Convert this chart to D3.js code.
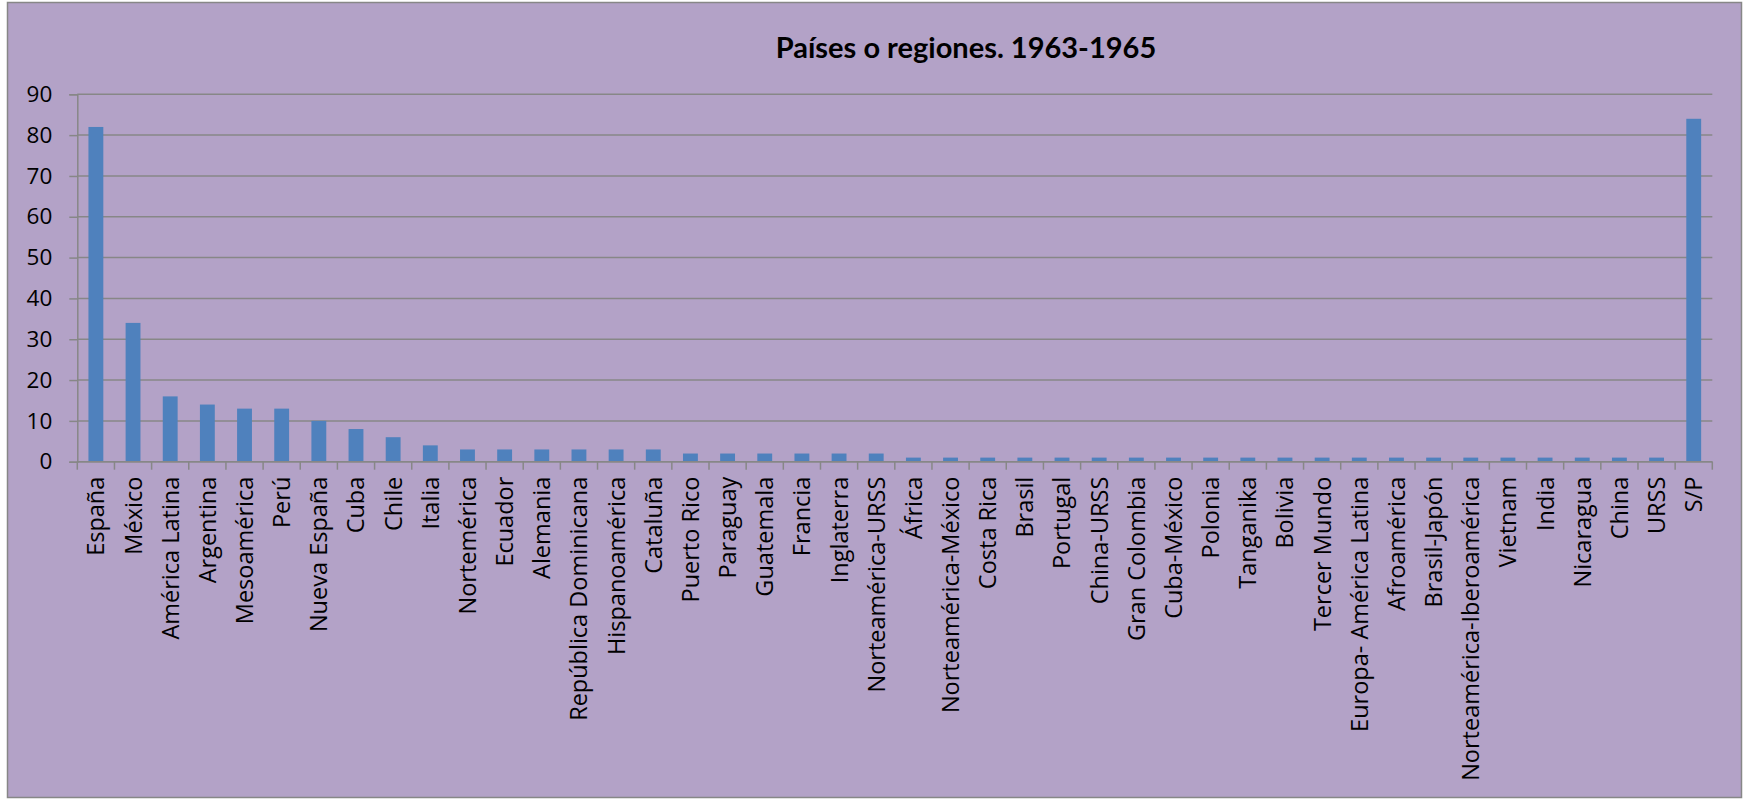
<!DOCTYPE html>
<html>
<head>
<meta charset="utf-8">
<script src="https://cdn.jsdelivr.net/npm/d3@7"></script>
<style>
  body { margin: 0; background: #fff; }
  svg { display: block; }
</style>
</head>
<body>
<div id="chart"></div>
<script>
// Chart data
const categories = ["España", "México", "América Latina", "Argentina", "Mesoamérica", "Perú",
  "Nueva España", "Cuba", "Chile", "Italia", "Nortemérica", "Ecuador", "Alemania",
  "República Dominicana", "Hispanoamérica", "Cataluña", "Puerto Rico", "Paraguay",
  "Guatemala", "Francia", "Inglaterra", "Norteamérica-URSS", "África", "Norteamérica-México",
  "Costa Rica", "Brasil", "Portugal", "China-URSS", "Gran Colombia", "Cuba-México", "Polonia",
  "Tanganika", "Bolivia", "Tercer Mundo", "Europa- América Latina", "Afroamérica",
  "Brasil-Japón", "Norteamérica-Iberoamérica", "Vietnam", "India", "Nicaragua", "China",
  "URSS", "S/P"];
const values = [82, 34, 16, 14, 13, 13, 10, 8, 6, 4, 3, 3, 3, 3, 3, 3, 2, 2, 2, 2, 2, 2,
  1, 1, 1, 1, 1, 1, 1, 1, 1, 1, 1, 1, 1, 1, 1, 1, 1, 1, 1, 1, 1, 84];
const yTicks = [0, 10, 20, 30, 40, 50, 60, 70, 80, 90];
const title = "Países o regiones. 1963-1965";

const width = 1743, height = 799;
const plotLeft = 77.3, plotRight = 1712.3, plotTop = 94.3, plotBottom = 461.7;

const svg = d3.select("#chart").append("svg")
    .attr("width", width)
    .attr("height", height);

// chart area background
svg.append("rect")
    .attr("x", 7.5).attr("y", 2.5)
    .attr("width", 1734).attr("height", 795)
    .attr("fill", "#b3a2c7")
    .attr("stroke", "#878787")
    .attr("stroke-width", 1.5);

svg.append("text")
    .attr("x", 966).attr("y", 58)
    .attr("text-anchor", "middle")
    .style("font-family", "Lato, 'Open Sans', sans-serif")
    .style("font-weight", "bold")
    .style("font-size", "29px")
    .attr("fill", "#000")
    .text(title);

const x = d3.scaleBand()
    .domain(categories)
    .range([plotLeft, plotRight])
    .paddingInner(0.6)
    .paddingOuter(0.3);

const y = d3.scaleLinear()
    .domain([0, 90])
    .range([plotBottom, plotTop]);

// gridlines
svg.append("g")
    .selectAll("line")
    .data(yTicks)
    .join("line")
    .attr("x1", plotLeft).attr("x2", plotRight)
    .attr("y1", d => y(d)).attr("y2", d => y(d))
    .attr("stroke", "#878787")
    .attr("stroke-width", 1.5);

// bars
svg.append("g")
    .selectAll("rect")
    .data(values)
    .join("rect")
    .attr("x", (d, i) => x(categories[i]))
    .attr("width", x.bandwidth())
    .attr("y", d => y(d))
    .attr("height", d => y(0) - y(d))
    .attr("fill", "#4f81bd");

// y axis
const yAxis = svg.append("g")
    .attr("transform", `translate(${plotLeft},0)`)
    .call(d3.axisLeft(y).tickValues(yTicks).tickSize(8).tickPadding(17));
yAxis.selectAll("path, line").attr("stroke", "#878787").attr("stroke-width", 1.5);
yAxis.selectAll("text")
    .style("font-family", "'Open Sans', sans-serif")
    .style("font-size", "22.5px")
    .attr("fill", "#000");

// x axis line and ticks at category boundaries
const step = x.step();
const bounds = d3.range(categories.length + 1).map(i => plotLeft + i * step);
svg.append("line")
    .attr("x1", plotLeft).attr("x2", plotRight)
    .attr("y1", plotBottom).attr("y2", plotBottom)
    .attr("stroke", "#878787").attr("stroke-width", 1.5);
svg.append("g")
    .selectAll("line")
    .data(bounds)
    .join("line")
    .attr("x1", d => d).attr("x2", d => d)
    .attr("y1", plotBottom).attr("y2", plotBottom + 8)
    .attr("stroke", "#878787").attr("stroke-width", 1.5);

// category labels, rotated
svg.append("g")
    .selectAll("text")
    .data(categories)
    .join("text")
    .attr("transform", d => `translate(${x(d) + x.bandwidth() / 2},${plotBottom + 15}) rotate(-90)`)
    .attr("text-anchor", "end")
    .attr("dy", "0.36em")
    .style("font-family", "'Open Sans', sans-serif")
    .style("font-size", "23.5px")
    .attr("fill", "#000")
    .text(d => d);
</script>
</body>
</html>
